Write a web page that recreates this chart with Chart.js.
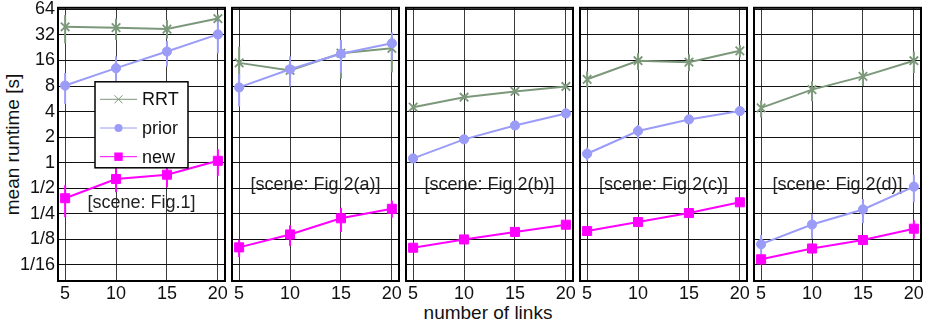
<!DOCTYPE html>
<html>
<head>
<meta charset="utf-8">
<script src="https://cdn.jsdelivr.net/npm/chart.js@4/dist/chart.umd.min.js"></script>
<style>
  html, body { margin: 0; padding: 0; background: #fff; }
  #wrap { position: relative; width: 928px; height: 327px; overflow: hidden; font-family: "Liberation Sans", Arial, sans-serif; }
  #wrap canvas { position: absolute; top: 0; }
  .title { position: absolute; font-size: 19px; line-height: 19px; color: #111; white-space: nowrap; text-align: center; }
</style>
</head>
<body>
<div id="wrap">
  <div class="title" id="ytitle" style="left:-88px; top:135px; width:200px; transform: rotate(-90deg);">mean runtime [s]</div>
  <div class="title" id="xtitle" style="left:388px; top:303px; width:200px;">number of links</div>
</div>
<script>
// ====== Data ======
const links = [5, 10, 15, 20];
const sceneNames = ['[scene: Fig.1]', '[scene: Fig.2(a)]', '[scene: Fig.2(b)]', '[scene: Fig.2(c)]', '[scene: Fig.2(d)]'];
const yTickExp = [-4, -3, -2, -1, 0, 1, 2, 3, 4, 5, 6];

// one row per scene, one value per number of links
const rrtMean = [
  [40, 39, 37.6, 50],
  [15, 12.2, 19.5, 22.3],
  [4.5, 5.9, 6.9, 7.9],
  [9.6, 15.9, 15.3, 20.8],
  [4.42, 7.26, 10.4, 15.9]
];
const rrtLow = [
  [25.5, 28, 29, 45],
  [9.5, 9.1, 9.8, 11.6],
  [4.2, 5.6, 6.5, 7.5],
  [7.7, 12.4, 12, 17.4],
  [3.4, 5.3, 8.0, 11.4]
];
const rrtHigh = [
  [55, 50, 48, 56],
  [23.3, 16.3, 26.7, 30.5],
  [4.8, 6.3, 7.3, 8.4],
  [11.9, 19.5, 19, 24.4],
  [5.4, 9.1, 12.5, 20.4]
];
const priorMean = [
  [8.1, 13, 20.4, 32.5],
  [7.7, 12.6, 19.2, 25.5],
  [1.12, 1.88, 2.74, 3.8],
  [1.27, 2.36, 3.23, 4.05],
  [0.109, 0.186, 0.28, 0.52]
];
const priorLow = [
  [4.9, 9.1, 13.6, 19.4],
  [4.6, 7.9, 11.4, 16.3],
  [1.06, 1.78, 2.55, 3.6],
  [1.05, 1.9, 2.9, 3.7],
  [0.081, 0.127, 0.193, 0.341]
];
const priorHigh = [
  [11.4, 17.9, 27.3, 46.5],
  [11.1, 17.9, 28, 34.3],
  [1.18, 1.98, 2.95, 4.0],
  [1.5, 2.78, 3.6, 4.4],
  [0.14, 0.248, 0.372, 0.717]
];
const newMean = [
  [0.38, 0.64, 0.72, 1.05],
  [0.10, 0.142, 0.22, 0.285],
  [0.099, 0.124, 0.152, 0.185],
  [0.156, 0.199, 0.254, 0.34],
  [0.0723, 0.097, 0.122, 0.166]
];
const newLow = [
  [0.227, 0.447, 0.51, 0.70],
  [0.077, 0.104, 0.152, 0.224],
  [0.095, 0.119, 0.146, 0.177],
  [0.148, 0.19, 0.24, 0.32],
  [0.0625, 0.085, 0.108, 0.127]
];
const newHigh = [
  [0.54, 0.877, 0.97, 1.44],
  [0.123, 0.182, 0.293, 0.356],
  [0.104, 0.13, 0.158, 0.194],
  [0.165, 0.21, 0.27, 0.36],
  [0.081, 0.11, 0.138, 0.209]
];

// ====== Styles / layout ======
const FONT = '"Liberation Sans", Arial, sans-serif';
const series = [
  { name: 'new',   color: '#ff00ff', style: 'rect',     radius: 6.4, mean: newMean,   low: newLow,   high: newHigh },
  { name: 'prior', color: '#9a9cf8', style: 'circle',   radius: 4.6, mean: priorMean, low: priorLow, high: priorHigh },
  { name: 'RRT',   color: '#7c987a', style: 'crossRot', radius: 6,   mean: rrtMean,   low: rrtLow,   high: rrtHigh }
];
const plotLeft = [58, 232, 406, 580, 754];
const plotW = 167, plotTop = 6, plotBottom = 281;
const padSide = 12, canvasH = 303;
const sceneY = [0.33, 0.54, 0.54, 0.55, 0.55];

// ====== Plugins ======
function errorBarPlugin(p) {
  return {
    id: 'errbars',
    beforeDatasetsDraw(chart) {
      const { ctx, scales: { x, y } } = chart;
      ctx.save();
      ctx.lineWidth = 2;
      series.slice().reverse().forEach(s => {
        ctx.strokeStyle = s.color;
        links.forEach((l, j) => {
          const px = x.getPixelForValue(l);
          ctx.beginPath();
          ctx.moveTo(px, y.getPixelForValue(s.low[p][j]));
          ctx.lineTo(px, y.getPixelForValue(s.high[p][j]));
          ctx.stroke();
        });
      });
      // scene label
      const a = chart.chartArea;
      ctx.fillStyle = '#222';
      ctx.font = '18px ' + FONT;
      ctx.textAlign = 'center';
      ctx.textBaseline = 'middle';
      ctx.fillText(sceneNames[p], (a.left + a.right) / 2, y.getPixelForValue(sceneY[p]));
      ctx.restore();
    }
  };
}

const framePlugin = {
  id: 'frame',
  afterDraw(chart) {
    const a = chart.chartArea, ctx = chart.ctx;
    ctx.save();
    ctx.strokeStyle = '#000';
    ctx.lineWidth = 2;
    ctx.strokeRect(a.left, a.top, a.right - a.left, a.bottom - a.top);
    ctx.restore();
  }
};

function drawMarker(ctx, style, x, y, r) {
  ctx.beginPath();
  if (style === 'circle') {
    ctx.arc(x, y, r, 0, Math.PI * 2);
    ctx.fill();
  } else if (style === 'rect') {
    ctx.fillRect(x - r, y - r, 2 * r, 2 * r);
  } else {
    ctx.moveTo(x - r, y - r); ctx.lineTo(x + r, y + r);
    ctx.moveTo(x + r, y - r); ctx.lineTo(x - r, y + r);
    ctx.stroke();
  }
}

const legendPlugin = {
  id: 'legendBox',
  afterDraw(chart) {
    const a = chart.chartArea, ctx = chart.ctx;
    const bx = a.left + 37, by = a.top + 74, bw = 93, bh = 86;
    ctx.save();
    ctx.fillStyle = '#fff';
    ctx.fillRect(bx, by, bw, bh);
    ctx.strokeStyle = '#000';
    ctx.lineWidth = 1.5;
    ctx.strokeRect(bx, by, bw, bh);
    const rows = [series[2], series[1], series[0]];
    const rowR = [4, 4, 4.2];
    rows.forEach((s, k) => {
      const ry = by + 17.5 + k * 28.7;
      ctx.strokeStyle = s.color;
      ctx.fillStyle = s.color;
      ctx.lineWidth = 1;
      ctx.beginPath();
      ctx.moveTo(bx + 5, ry); ctx.lineTo(bx + 42, ry);
      ctx.stroke();
      drawMarker(ctx, s.style, bx + 23.5, ry, rowR[k]);
      ctx.fillStyle = '#111';
      ctx.font = '18px ' + FONT;
      ctx.textAlign = 'left';
      ctx.textBaseline = 'middle';
      ctx.fillText(s.name, bx + 47, ry + 1);
    });
    ctx.restore();
  }
};

// ====== Build panels ======
const wrap = document.getElementById('wrap');
plotLeft.forEach((left, p) => {
  const padL = p === 0 ? left : padSide;
  const cv = document.createElement('canvas');
  cv.width = padL + plotW + padSide;
  cv.height = canvasH;
  cv.style.left = (left - padL) + 'px';
  cv.style.width = cv.width + 'px';
  cv.style.height = cv.height + 'px';
  wrap.appendChild(cv);

  const datasets = series.map(s => ({
    label: s.name,
    data: links.map((l, j) => ({ x: l, y: s.mean[p][j] })),
    borderColor: s.color,
    backgroundColor: s.color,
    borderWidth: 2,
    pointStyle: s.style,
    pointRadius: s.radius,
    pointBorderWidth: s.style === 'crossRot' ? 1.8 : 1,
    tension: 0
  }));

  new Chart(cv, {
    type: 'line',
    data: { datasets },
    options: {
      responsive: false,
      animation: false,
      devicePixelRatio: 1,
      layout: { padding: { left: p === 0 ? 0 : padL, right: padSide, top: plotTop, bottom: 0 } },
      plugins: { legend: { display: false }, tooltip: { enabled: false } },
      scales: {
        x: {
          type: 'linear', min: 4.3, max: 20.7,
          afterBuildTicks: s => { s.ticks = links.map(v => ({ value: v })); },
          afterFit: s => { s.height = canvasH - plotBottom; s.paddingLeft = 0; s.paddingRight = 0; },
          grid: { color: '#3a3a3a', lineWidth: 1, drawTicks: false },
          border: { display: false },
          ticks: { padding: 2, color: '#111', font: { family: FONT, size: 18 }, autoSkip: false, maxRotation: 0 }
        },
        y: {
          type: 'logarithmic', min: Math.pow(2, -4.64), max: Math.pow(2, 6.065),
          afterBuildTicks: s => { s.ticks = yTickExp.map(e => ({ value: Math.pow(2, e) })); },
          afterFit: s => { s.width = p === 0 ? left : 0; s.paddingTop = 0; s.paddingBottom = 0; },
          grid: { color: '#111', lineWidth: 1, drawTicks: false },
          border: { display: false },
          ticks: {
            display: p === 0, padding: 3, color: '#111', autoSkip: false,
            font: { family: FONT, size: 18 },
            callback: v => v >= 1 ? String(Math.round(v)) : '1/' + Math.round(1 / v)
          }
        }
      }
    },
    plugins: p === 0 ? [errorBarPlugin(p), framePlugin, legendPlugin] : [errorBarPlugin(p), framePlugin]
  });
});
</script>
</body>
</html>
